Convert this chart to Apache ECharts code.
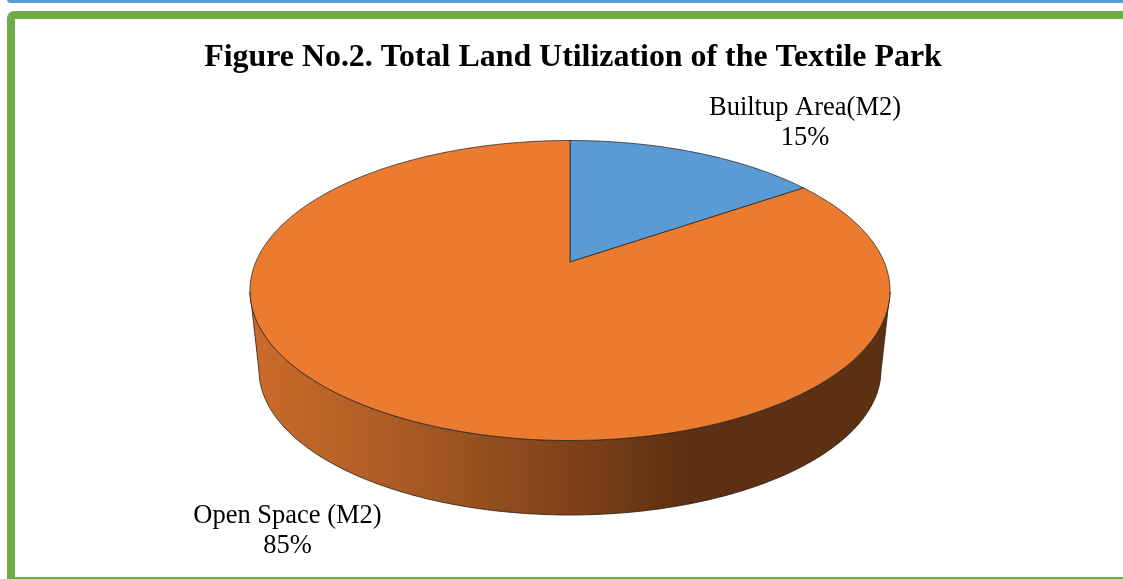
<!DOCTYPE html>
<html>
<head>
<meta charset="utf-8">
<style>
html, body { margin: 0; padding: 0; background: #fff; }
#chart { width: 1123px; height: 579px; }
</style>
<script src="https://cdn.jsdelivr.net/npm/echarts@6/dist/echarts.min.js"></script>
</head>
<body>
<div id="chart"></div>
<script>
// Data
const chartTitle = 'Figure No.2. Total Land Utilization of the Textile Park';
const sliceNames = ['Builtup Area(M2)', 'Open Space (M2)'];
const sliceValues = [15.4, 84.6];
const sliceColors = ['#5B9BD5', '#EA7B2F'];

// Perspective look of the disc
const topFace = { cx: 570, cy: 290.5, rx: 320, ry: 150 };
const bottomFace = { cx: 570, cy: 370, rx: 311, ry: 145 };
const tilt = -0.19;
const labelCenters = [[805, 123.5], [287.5, 531.5]];

const total = sliceValues.reduce((a, b) => a + b, 0);

// Point of the unit disc (angle clockwise from 12 o'clock) on a face
function project(face, angle, r) {
    const X = r * Math.sin(angle);
    const Y = -r * Math.cos(angle);
    const w = 1 + tilt * Y;
    return [
        face.cx + face.rx * Math.sqrt(1 - tilt * tilt) * X / w,
        face.cy + face.ry * (Y + tilt) / w
    ];
}

function sampleAngles(from, to) {
    const list = [];
    const steps = Math.max(2, Math.ceil((to - from) / (Math.PI / 360)));
    for (let i = 0; i <= steps; i++) {
        list.push(from + (to - from) * i / steps);
    }
    return list;
}

function renderSlice(params, api) {
    const start = api.value(0) / total * Math.PI * 2;
    const end = api.value(1) / total * Math.PI * 2;
    const angles = sampleAngles(start, end);
    const children = [];

    // Side wall: only the front part of the rim is seen
    const front = angles.filter((a) => -Math.cos(a) >= -tilt);
    if (front.length > 1) {
        const upper = front.map((a) => project(topFace, a, 1));
        const lower = front.map((a) => project(bottomFace, a, 1)).reverse();
        children.push({
            type: 'polygon',
            z2: 1,
            shape: { points: upper.concat(lower) },
            style: {
                fill: {
                    type: 'linear', x: 0, y: 0, x2: 1, y2: 0,
                    colorStops: [
                        { offset: 0, color: '#CC6C2A' },
                        { offset: 0.25, color: '#A85A24' },
                        { offset: 0.5, color: '#7F421A' },
                        { offset: 0.68, color: '#5C3012' },
                        { offset: 1, color: '#5C3012' }
                    ]
                },
                stroke: '#2b1a0c',
                lineWidth: 0.8
            }
        });
    }

    // Top face
    const points = angles.map((a) => project(topFace, a, 1));
    points.push(project(topFace, 0, 0));
    children.push({
        type: 'polygon',
        z2: 2,
        shape: { points: points },
        style: {
            fill: sliceColors[params.dataIndex],
            stroke: '#2b2b2b',
            lineWidth: 0.8
        }
    });

    // Label
    const pos = labelCenters[params.dataIndex];
    children.push({
        type: 'text',
        z2: 3,
        x: pos[0],
        y: pos[1],
        style: {
            text: sliceNames[params.dataIndex] + '\n' + Math.round(sliceValues[params.dataIndex] / total * 100) + '%',
            fontFamily: 'Liberation Serif',
            fontSize: 26.5,
            lineHeight: 30,
            fill: '#000',
            align: 'center',
            verticalAlign: 'middle'
        }
    });

    return { type: 'group', children: children };
}

// Cumulative start and end of every slice
let running = 0;
const sliceRanges = sliceValues.map((v) => {
    const range = [running, running + v];
    running += v;
    return range;
});

const chart = echarts.init(document.getElementById('chart'));

const option = {
    animation: false,
    backgroundColor: '#fff',
    title: {
        text: chartTitle,
        left: 568,
        top: 37,
        textAlign: 'center',
        textStyle: {
            fontFamily: 'Liberation Serif',
            fontWeight: 'bold',
            fontSize: 31.9,
            color: '#000'
        }
    },
    // Slide frame, cut by the crop of the picture
    graphic: [
        {
            type: 'rect',
            shape: { x: 7, y: -20, width: 1200, height: 23, r: 4 },
            style: { fill: '#5B9BD5' }
        },
        {
            type: 'rect',
            shape: { x: 11, y: 15, width: 1200, height: 566, r: 3 },
            style: { fill: 'none', stroke: '#70AD47', lineWidth: 8 }
        }
    ],
    series: [
        {
            type: 'custom',
            coordinateSystem: 'none',
            renderItem: renderSlice,
            data: sliceRanges
        }
    ]
};

chart.setOption(option);
</script>
</body>
</html>
